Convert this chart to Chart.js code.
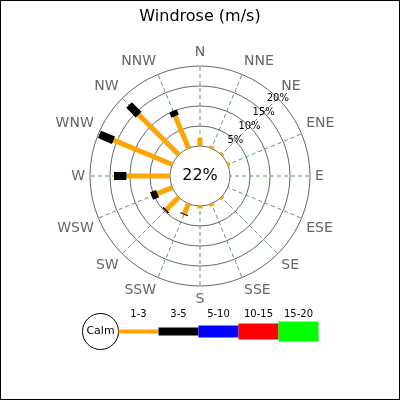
<!DOCTYPE html>
<html>
<head>
<meta charset="utf-8">
<script src="https://cdn.jsdelivr.net/npm/chart.js@4.4.1/dist/chart.umd.min.js"></script>
<style>
  html, body { margin: 0; padding: 0; background: #fff; }
</style>
</head>
<body>
<canvas id="rose" width="400" height="400"></canvas>
<script>
// compass directions, clockwise from north
const directions = ['N', 'NNE', 'NE', 'ENE', 'E', 'ESE', 'SE', 'SSE', 'S', 'SSW', 'SW', 'WSW', 'W', 'WNW', 'NW', 'NNW'];
// frequency (%) for each speed range (m/s)
const speed1to3   = [2.0, 0.6, 0.5, 0.5, 0, 0, 0.5, 0.6, 0.6, 2.7, 4.4, 4.0, 10.9, 15.9, 14.2, 8.7];
const speed3to5   = [0, 0, 0, 0, 0, 0, 0, 0, 0, 0.3, 0.4, 1.6, 3.1, 3.8, 3.4, 1.4];
const speed5to10  = [0, 0, 0, 0, 0, 0, 0, 0, 0, 0, 0, 0, 0, 0, 0, 0];
const speed10to15 = [0, 0, 0, 0, 0, 0, 0, 0, 0, 0, 0, 0, 0, 0, 0, 0];
const speed15to20 = [0, 0, 0, 0, 0, 0, 0, 0, 0, 0, 0, 0, 0, 0, 0, 0];
const rangeLabels = ['1-3', '3-5', '5-10', '10-15', '15-20'];
const calmPercent = 22;
const tickValues = [5, 10, 15, 20];

const rangeColors = ['#ffa500', '#000000', '#0000ff', '#ff0000', '#00ff00'];
const barWidths = [5, 8, 12, 16, 20];
const legendWidths = [4, 8, 12, 16, 20];

Chart.defaults.font.family = '"DejaVu Sans", sans-serif';

const series = [speed1to3, speed3to5, speed5to10, speed10to15, speed15to20];

// draws the stacked radial bars, calm circle, % labels, legend and frame
const windrosePlugin = {
  id: 'windrose',
  beforeDraw(chart) {
    const c = chart.ctx;
    c.save();
    c.fillStyle = '#fff';
    c.fillRect(0, 0, chart.width, chart.height);
    c.restore();
  },
  afterDatasetsDraw(chart) {
    const c = chart.ctx;
    const r = chart.scales.r;
    const calmR = r.getDistanceFromCenterForValue(0);

    c.save();
    c.beginPath();
    c.arc(r.xCenter, r.yCenter, calmR, 0, Math.PI * 2);
    c.fillStyle = '#fff';
    c.fill();
    c.lineWidth = 1;
    c.strokeStyle = '#666';
    c.stroke();

    // stacked bars
    c.lineCap = 'butt';
    for (let i = 0; i < directions.length; i++) {
      let base = 0;
      chart.data.datasets.forEach((ds, k) => {
        const v = ds.data[i];
        if (v > 0) {
          const p0 = r.getPointPositionForValue(i, base);
          const p1 = r.getPointPositionForValue(i, base + v);
          c.beginPath();
          c.moveTo(p0.x, p0.y);
          c.lineTo(p1.x, p1.y);
          c.lineWidth = barWidths[k];
          c.strokeStyle = rangeColors[k];
          c.stroke();
        }
        base += v;
      });
    }

    // calm text
    c.fillStyle = '#000';
    c.font = '16px "DejaVu Sans"';
    c.textAlign = 'center';
    c.textBaseline = 'middle';
    c.fillText(calmPercent + '%', r.xCenter, r.yCenter);

    // % ticks along NE
    c.font = '10px "DejaVu Sans"';
    tickValues.forEach(v => {
      const p = r.getPointPositionForValue(2, v);
      c.fillText(v + '%', p.x, p.y);
    });
    c.restore();
  },
  afterDraw(chart) {
    const c = chart.ctx;
    c.save();
    // legend
    const cy = 331.5;
    c.beginPath();
    c.arc(100.5, cy, 18, 0, Math.PI * 2);
    c.fillStyle = '#fff';
    c.fill();
    c.strokeStyle = '#000';
    c.lineWidth = 1;
    c.stroke();
    c.fillStyle = '#000';
    c.textAlign = 'center';
    c.textBaseline = 'middle';
    c.font = '11px "DejaVu Sans"';
    c.fillText('Calm', 100.5, cy);

    c.font = '10px "DejaVu Sans"';
    rangeLabels.forEach((lab, k) => {
      const x0 = 118.5 + k * 40;
      c.fillStyle = rangeColors[k];
      c.fillRect(x0, cy - legendWidths[k] / 2, 40, legendWidths[k]);
      c.fillStyle = '#000';
      c.fillText(lab, x0 + 20, 314);
    });

    // frame
    c.strokeStyle = '#000';
    c.lineWidth = 1;
    c.strokeRect(0.5, 0.5, chart.width - 1, chart.height - 1);
    c.restore();
  }
};

new Chart(document.getElementById('rose'), {
  type: 'radar',
  data: {
    labels: directions,
    datasets: series.map((d, k) => ({
      label: rangeLabels[k],
      data: d,
      fill: false,
      showLine: false,
      pointRadius: 0,
      pointHoverRadius: 0,
      borderWidth: 0,
      backgroundColor: 'transparent',
      borderColor: 'transparent'
    }))
  },
  options: {
    responsive: false,
    animation: false,
    events: [],
    layout: { padding: { left: 30, right: 30, top: 0, bottom: 92 } },
    plugins: {
      legend: { display: false },
      tooltip: { enabled: false },
      title: {
        display: true,
        text: 'Windrose (m/s)',
        color: '#000',
        font: { size: 16, weight: 'normal' },
        padding: { top: 7, bottom: 18 }
      }
    },
    scales: {
      r: {
        min: -7.5,
        max: 20,
        ticks: { display: false, stepSize: 5 },
        grid: {
          circular: true,
          color: ctx => (ctx.tick && ctx.tick.value > 0 ? '#666' : 'transparent'),
          lineWidth: 1
        },
        angleLines: { color: '#5a9a5a', borderDash: [4, 3], lineWidth: 1 },
        pointLabels: { color: '#666', font: { size: 14 }, padding: 5 }
      }
    }
  },
  plugins: [windrosePlugin]
});
</script>
</body>
</html>
